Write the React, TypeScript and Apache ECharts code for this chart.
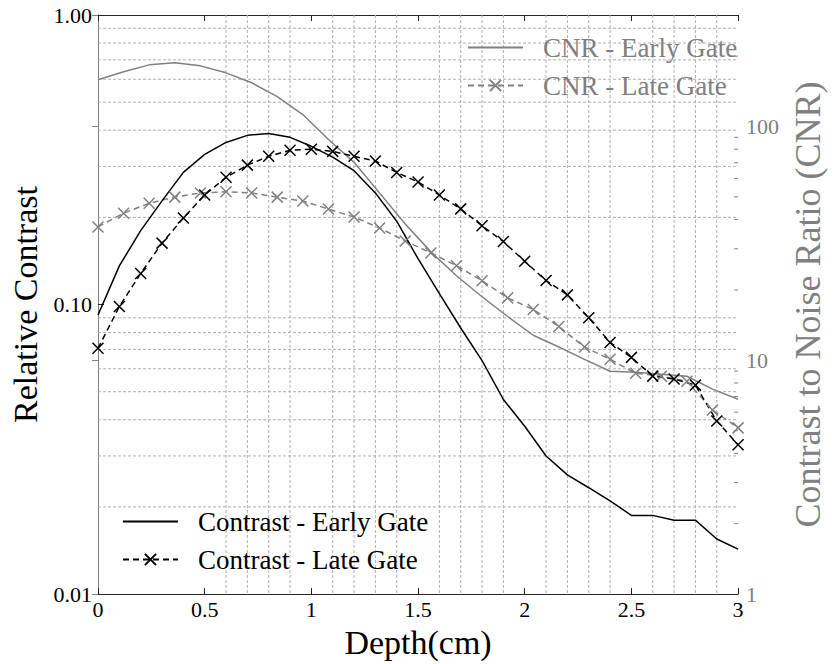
import { useEffect, useRef } from 'react';
import * as echarts from 'echarts';

// Depth sampling (cm)
const depthFine = [0, 0.1, 0.2, 0.3, 0.4, 0.5, 0.6, 0.7, 0.8, 0.9, 1.0, 1.1, 1.2, 1.3, 1.4, 1.5, 1.6, 1.7, 1.8, 1.9, 2.0, 2.1, 2.2, 2.3, 2.4, 2.5, 2.6, 2.7, 2.8, 2.9, 3.0];
const depthCoarse = [0, 0.12, 0.24, 0.36, 0.48, 0.6, 0.72, 0.84, 0.96, 1.08, 1.2, 1.32, 1.44, 1.56, 1.68, 1.8, 1.92, 2.04, 2.16, 2.28, 2.4, 2.52, 2.64, 2.76, 2.88, 3.0];

// Relative contrast (left axis)
const contrastEarly = [0.092, 0.136, 0.180, 0.228, 0.286, 0.330, 0.363, 0.384, 0.390, 0.378, 0.352, 0.323, 0.290, 0.243, 0.194, 0.144, 0.109, 0.083, 0.064, 0.047, 0.038, 0.030, 0.0258, 0.0233, 0.021, 0.0187, 0.0187, 0.018, 0.018, 0.0155, 0.0143];
const contrastLate = [0.0706, 0.0984, 0.128, 0.163, 0.199, 0.239, 0.275, 0.303, 0.325, 0.341, 0.344, 0.338, 0.325, 0.313, 0.286, 0.265, 0.239, 0.214, 0.187, 0.165, 0.141, 0.121, 0.108, 0.090, 0.074, 0.0657, 0.0566, 0.0553, 0.0527, 0.0396, 0.0328];

// Contrast to noise ratio (right axis)
const cnrEarly = [158.5, 171.4, 183.6, 187.3, 181.8, 169.7, 153.9, 134.2, 112.5, 88.0, 70.3, 51.9, 38.3, 29.1, 23.0, 18.7, 15.4, 12.8, 11.4, 10.1, 8.98, 8.89, 8.72, 8.55, 7.53, 6.82];
const cnrLate = [37.2, 42.6, 47.0, 49.9, 52.0, 52.6, 52.0, 49.9, 48.0, 44.4, 41.0, 36.8, 32.4, 28.8, 25.4, 21.9, 18.5, 16.5, 13.95, 11.4, 10.1, 8.80, 8.55, 8.14, 6.13, 5.14];

// Grid / tick positions
const xMinorGrid = [0.6, 0.7, 0.8, 0.9, 1.1, 1.2, 1.3, 1.4, 1.6, 1.7, 1.8, 1.9, 2.1, 2.2, 2.3, 2.4, 2.6, 2.7, 2.8, 2.9];
const yMinorGrid = [0.02, 0.03, 0.04, 0.05, 0.06, 0.07, 0.08, 0.09, 0.2, 0.3, 0.4, 0.5, 0.6, 0.7, 0.8, 0.9];
const rightMinorTicks = [2, 3, 4, 5, 6, 7, 8, 9, 20, 30, 40, 50, 60, 70, 80, 90, 200];

const FONT = "'Liberation Serif', 'Times New Roman', 'DejaVu Serif', serif";
const GRAY = '#808080';
const AXIS = '#262626';
const XPATH = 'path://M0,0L10,10M10,0L0,10';

export default function App() {
  const ref = useRef<HTMLDivElement>(null);
  useEffect(() => {
    if (!ref.current) return;
    const chart = echarts.init(ref.current, null, { renderer: 'svg' });
    const gridStyle = { stroke: '#b0b0b0', lineWidth: 1, lineDash: [3, 2], fill: null };
    const isPow10 = (v: number) => Math.abs(Math.log10(v) - Math.round(Math.log10(v))) < 1e-6;
    chart.setOption({
      animation: false,
      backgroundColor: '#fff',
      textStyle: { fontFamily: FONT },
      grid: { left: 97, right: 77, top: 15, bottom: 67, containLabel: false },
      legend: [
        {
          data: [{ name: 'CNR - Early Gate', itemStyle: { opacity: 0 } }, { name: 'CNR - Late Gate' }],
          orient: 'vertical', left: 467, top: 34, padding: 0,
          itemWidth: 55, itemHeight: 14, itemGap: 11,
          textStyle: { fontFamily: FONT, fontSize: 27, color: GRAY, padding: [0, 0, 0, 15] },
        },
        {
          data: [{ name: 'Contrast - Early Gate', itemStyle: { opacity: 0 } }, { name: 'Contrast - Late Gate' }],
          orient: 'vertical', left: 122, top: 508, padding: 0,
          itemWidth: 55, itemHeight: 14, itemGap: 11,
          textStyle: { fontFamily: FONT, fontSize: 27, color: '#000', padding: [0, 0, 0, 15] },
        },
      ],
      xAxis: [
        {
          type: 'value', min: 0, max: 3, interval: 0.5, position: 'bottom',
          name: 'Depth(cm)', nameLocation: 'middle', nameGap: 28,
          nameTextStyle: { fontFamily: FONT, fontSize: 34, color: '#000' },
          axisLine: { show: true, lineStyle: { color: AXIS, width: 1 } },
          axisTick: { show: true, inside: true, length: 6, lineStyle: { color: AXIS } },
          axisLabel: { fontFamily: FONT, fontSize: 22, color: '#000', margin: 4 },
          splitLine: { show: false },
        },
        {
          type: 'value', min: 0, max: 3, interval: 0.5, position: 'top',
          axisLine: { show: true, lineStyle: { color: AXIS, width: 1 } },
          axisTick: { show: true, inside: true, length: 6, lineStyle: { color: AXIS } },
          axisLabel: { show: false },
          splitLine: { show: false },
        },
      ],
      yAxis: [
        {
          type: 'log', logBase: 10, min: 0.01, max: 1, position: 'left',
          name: 'Relative Contrast', nameLocation: 'middle', nameGap: 56, nameRotate: 90,
          nameTextStyle: { fontFamily: FONT, fontSize: 34, color: '#000' },
          axisLine: { show: true, lineStyle: { color: AXIS, width: 1 } },
          axisTick: { show: true, inside: true, length: 6, lineStyle: { color: AXIS } },
          axisLabel: { fontFamily: FONT, fontSize: 22, color: '#000', margin: 6, formatter: (v: number) => v.toFixed(2) },
          splitLine: { show: false },
        },
        {
          type: 'log', logBase: 10, min: 1, max: 300, position: 'right',
          name: 'Contrast to Noise Ratio (CNR)', nameLocation: 'middle', nameGap: 41, nameRotate: 90,
          nameTextStyle: { fontFamily: FONT, fontSize: 36, color: GRAY },
          axisLine: { show: true, lineStyle: { color: GRAY, width: 1 } },
          axisTick: { show: true, inside: true, length: 6, lineStyle: { color: GRAY } },
          axisLabel: {
            fontFamily: FONT, fontSize: 22, color: GRAY, margin: 8,
            formatter: (v: number) => (isPow10(v) ? String(Math.round(v)) : ''),
          },
          splitLine: { show: false },
        },
      ],
      series: [
        {
          type: 'custom', xAxisIndex: 0, yAxisIndex: 0, silent: true, z: 1,
          data: xMinorGrid.map((v) => [v, 0.1]),
          renderItem: (params: any, api: any) => {
            const cs = params.coordSys;
            const p = api.coord([api.value(0), api.value(1)]);
            return { type: 'line', shape: { x1: p[0], y1: cs.y, x2: p[0], y2: cs.y + cs.height }, style: gridStyle };
          },
        },
        {
          type: 'custom', xAxisIndex: 0, yAxisIndex: 0, silent: true, z: 1,
          data: yMinorGrid.map((v) => [1, v]),
          renderItem: (params: any, api: any) => {
            const cs = params.coordSys;
            const p = api.coord([api.value(0), api.value(1)]);
            return { type: 'line', shape: { x1: cs.x, y1: p[1], x2: cs.x + cs.width, y2: p[1] }, style: gridStyle };
          },
        },
        {
          type: 'custom', xAxisIndex: 0, yAxisIndex: 1, silent: true, z: 4,
          data: rightMinorTicks.map((v) => [3, v]),
          renderItem: (params: any, api: any) => {
            const p = api.coord([api.value(0), api.value(1)]);
            return { type: 'line', shape: { x1: p[0] - 4, y1: p[1], x2: p[0], y2: p[1] }, style: { stroke: GRAY, lineWidth: 1 } };
          },
        },
        {
          name: 'CNR - Early Gate', type: 'line', xAxisIndex: 0, yAxisIndex: 1, z: 3,
          data: depthCoarse.map((d, i) => [d, cnrEarly[i]]),
          symbol: 'none',
          lineStyle: { color: GRAY, width: 1.5 },
          itemStyle: { color: GRAY },
        },
        {
          name: 'CNR - Late Gate', type: 'line', xAxisIndex: 0, yAxisIndex: 1, z: 3,
          data: depthCoarse.map((d, i) => [d, cnrLate[i]]),
          symbol: XPATH, symbolSize: 11,
          lineStyle: { color: GRAY, width: 1.5, type: [6, 4] },
          itemStyle: { color: GRAY, borderColor: GRAY, borderWidth: 1.5 },
        },
        {
          name: 'Contrast - Early Gate', type: 'line', xAxisIndex: 0, yAxisIndex: 0, z: 3,
          data: depthFine.map((d, i) => [d, contrastEarly[i]]),
          symbol: 'none',
          lineStyle: { color: '#000', width: 1.5 },
          itemStyle: { color: '#000' },
        },
        {
          name: 'Contrast - Late Gate', type: 'line', xAxisIndex: 0, yAxisIndex: 0, z: 3,
          data: depthFine.map((d, i) => [d, contrastLate[i]]),
          symbol: XPATH, symbolSize: 11,
          lineStyle: { color: '#000', width: 1.5, type: [6, 4] },
          itemStyle: { color: '#000', borderColor: '#000', borderWidth: 1.5 },
        },
      ],
    });
    return () => chart.dispose();
  }, []);
  return (
    <div
      ref={ref}
      style={{ position: 'fixed', left: 0, top: 0, width: 834, height: 664, background: '#fff' }}
    />
  );
}
